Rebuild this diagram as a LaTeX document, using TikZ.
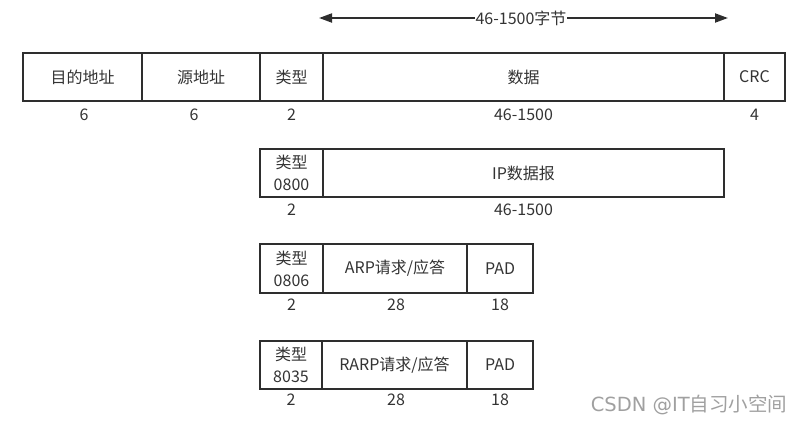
\documentclass[tikz,border=0pt]{standalone}
\usepackage{fontspec}
\setmainfont{Noto Sans CJK SC}
\newfontfamily\wmlatin{DejaVu Sans}
\usetikzlibrary{arrows.meta}
\definecolor{ln}{HTML}{2E2E2E}
\definecolor{tx}{HTML}{333333}
\definecolor{wm}{HTML}{A0A0A0}
\begin{document}
\begin{tikzpicture}[x=1pt,y=-1pt,
  fld/.style={draw=ln, line width=1.9pt, rectangle, inner sep=0pt, text=tx,
    font=\fontsize{16}{22}\selectfont, align=center},
  lbl/.style={text=tx, inner sep=0pt, font=\fontsize{16}{22}\selectfont},
  span/.style={draw=ln, line width=1.9pt, {Triangle[length=13pt,width=9pt]}-{Triangle[length=13pt,width=9pt]}}]
\useasboundingbox (0,0) rectangle (810,423);
% span arrow
\coordinate (sl) at (319,18);
\coordinate (sr) at (728,18);
\draw[span] (sl) -- (sr);
\node[lbl, fill=white, inner xsep=1pt] (spanlbl) at (521,18) {46-1500字节};
% row 1
\node[fld, minimum width=119pt, minimum height=48pt] (dst) at (82.5,77) {目的地址};
\node[fld, minimum width=118pt, minimum height=48pt] (src) at (201,77) {源地址};
\node[fld, minimum width=63pt, minimum height=48pt] (typ) at (291.5,77) {类型};
\node[fld, minimum width=401pt, minimum height=48pt] (data) at (523.5,77) {数据};
\node[fld, minimum width=61pt, minimum height=48pt] (crc) at (754.5,77) {CRC};
\node[lbl] (l1a) at (84,115) {6};
\node[lbl] (l1b) at (194,115) {6};
\node[lbl] (l1c) at (291.5,115) {2};
\node[lbl] (l1d) at (523.5,115) {46-1500};
\node[lbl] (l1e) at (754.5,115) {4};
% row 2
\node[fld, minimum width=63pt, minimum height=48pt] (t2) at (291.5,173) {类型\\0800};
\node[fld, minimum width=401pt, minimum height=48pt] (ip) at (523.5,173) {IP数据报};
\node[lbl] (l2a) at (291.5,210) {2};
\node[lbl] (l2b) at (523.5,210) {46-1500};
% row 3
\node[fld, minimum width=63pt, minimum height=49pt] (t3) at (291.5,268.5) {类型\\0806};
\node[fld, minimum width=144pt, minimum height=49pt] (arp) at (395,268.5) {ARP请求/应答};
\node[fld, minimum width=66pt, minimum height=49pt] (pad3) at (500,268.5) {PAD};
\node[lbl] (l3a) at (291.5,305) {2};
\node[lbl] (l3b) at (396,305) {28};
\node[lbl] (l3c) at (500,305) {18};
% row 4
\node[fld, minimum width=62pt, minimum height=48pt] (t4) at (291,365) {类型\\8035};
\node[fld, minimum width=145pt, minimum height=48pt] (rarp) at (394.5,365) {RARP请求/应答};
\node[fld, minimum width=66pt, minimum height=48pt] (pad4) at (500,365) {PAD};
\node[lbl] (l4a) at (291,400) {2};
\node[lbl] (l4b) at (396,400) {28};
\node[lbl] (l4c) at (500,400) {18};
% watermark
\node[text=wm, inner sep=0pt, font=\fontsize{19.5}{22}\selectfont] (wmk) at (689,405) {{\wmlatin CSDN @IT}自习小空间};
\end{tikzpicture}
\end{document}
